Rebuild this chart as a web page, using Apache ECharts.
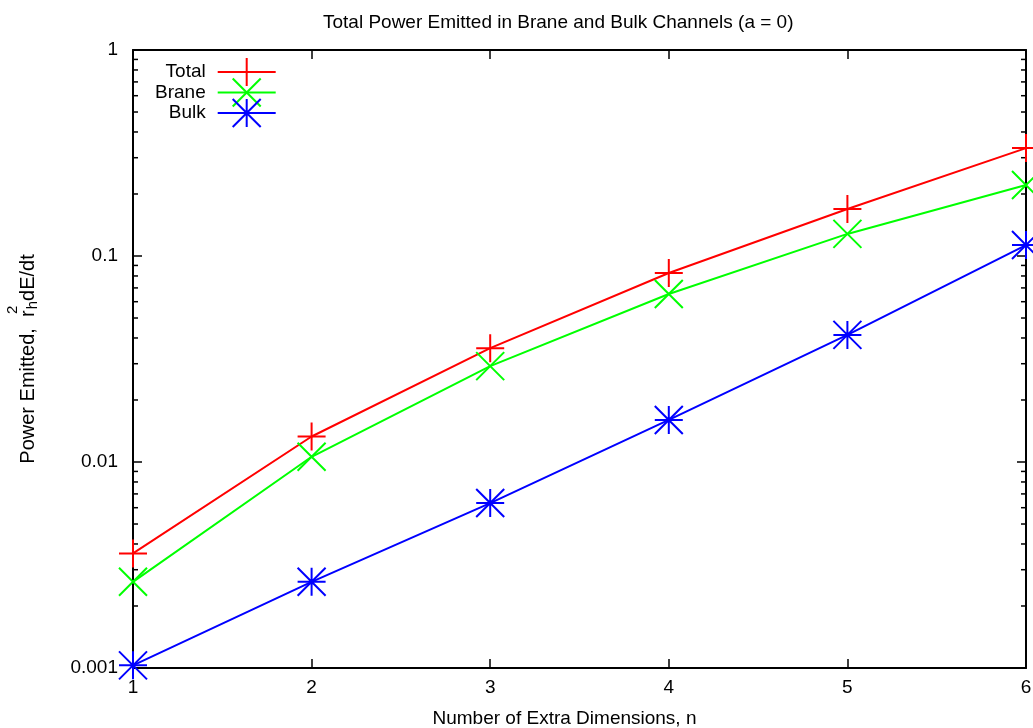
<!DOCTYPE html>
<html><head><meta charset="utf-8">
<script src="https://cdn.jsdelivr.net/npm/echarts@6/dist/echarts.min.js"></script>
<style>html,body{margin:0;padding:0;background:#fff}#c{width:1033px;height:728px}</style>
</head><body><div id="c"></div>
<script>
const dimensions = [1, 2, 3, 4, 5, 6];
const totalPower = [0.0036, 0.0133, 0.0357, 0.0827, 0.169, 0.334];
const branePower = [0.00262, 0.0106, 0.0292, 0.0654, 0.128, 0.221];
const bulkPower = [0.00103, 0.00262, 0.00632, 0.016, 0.0414, 0.113];
const xTickLabels = ['1', '2', '3', '4', '5', '6'];
const yTickLabels = ['0.001', '0.01', '0.1', '1'];
const minorTickValues = [0.002, 0.003, 0.004, 0.005, 0.006, 0.007, 0.008, 0.009,
  0.02, 0.03, 0.04, 0.05, 0.06, 0.07, 0.08, 0.09,
  0.2, 0.3, 0.4, 0.5, 0.6, 0.7, 0.8, 0.9];

const FONT = "'Liberation Sans', Arial, Helvetica, sans-serif";
const FS = 19;
const SYM_PLUS = 'path://M1,0L1,2M0,1L2,1';
const SYM_CROSS = 'path://M0,0L2,2M0,2L2,0';
const SYM_STAR = 'path://M0,0L2,2M0,2L2,0M1,0L1,2M0,1L2,1';

function pairs(vals) { return dimensions.map((x, i) => [x, vals[i]]); }
function lineSeries(name, vals, color, sym) {
  return {
    name, type: 'line', data: pairs(vals), clip: false,
    symbol: sym, symbolSize: 28, showAllSymbol: true,
    color: color,
    lineStyle: { color: color, width: 2 },
    itemStyle: { color: 'transparent', borderColor: color, borderWidth: 2 },
    emphasis: { disabled: true }
  };
}
const axisLine = { show: true, onZero: false, lineStyle: { color: '#000', width: 2 } };
const axisTickMajor = { show: true, inside: true, length: 9, lineStyle: { color: '#000', width: 1.5 } };

const chart = echarts.init(document.getElementById('c'), null, { renderer: 'canvas' });
chart.setOption({
  animation: false,
  backgroundColor: '#fff',
  title: {
    text: 'Total Power Emitted in Brane and Bulk Channels (a = 0)',
    left: 318, top: 8,
    textStyle: { fontSize: FS, fontWeight: 'normal', color: '#000', fontFamily: FONT }
  },
  grid: { left: 133, right: 7, top: 50, bottom: 60, containLabel: false, outerBoundsMode: 'none' },
  legend: {
    data: ['Total', 'Brane', 'Bulk'],
    orient: 'vertical', left: 155, top: 57, align: 'right',
    itemWidth: 58, itemHeight: 35, itemGap: -9.5, padding: 0,
    selectedMode: false,
    textStyle: { fontSize: FS, color: '#000', fontFamily: FONT, padding: [0, 7, 0, 0] }
  },
  xAxis: [{
    type: 'value', min: 1, max: 6, interval: 1, position: 'bottom',
    axisLine, axisTick: axisTickMajor, splitLine: { show: false },
    axisLabel: { margin: 10, color: '#000', fontSize: FS, fontFamily: FONT, showMinLabel: true, showMaxLabel: true,
      formatter: v => xTickLabels[Math.round(v) - 1] },
    name: 'Number of Extra Dimensions, n', nameLocation: 'middle', nameGap: 41,
    nameTextStyle: { color: '#000', fontSize: FS, fontFamily: FONT, padding: [0, 30, 0, 0] }
  }, {
    type: 'value', min: 1, max: 6, interval: 1, position: 'top',
    axisLine, axisTick: axisTickMajor, splitLine: { show: false }, axisLabel: { show: false }
  }],
  yAxis: [{
    type: 'log', logBase: 10, min: 0.001, max: 1, position: 'left',
    axisLine, axisTick: axisTickMajor, splitLine: { show: false }, minorTick: { show: false },
    axisLabel: { margin: 15, color: '#000', fontSize: FS, fontFamily: FONT, showMinLabel: true, showMaxLabel: true,
      formatter: v => yTickLabels[Math.round(Math.log10(v)) + 3] },
    name: '{a|Power Emitted,  r}{sup|2}{sub|h}{a|dE/dt}',
    nameLocation: 'middle', nameRotate: 90, nameGap: 93,
    nameTextStyle: {
      color: '#000', fontSize: FS, fontFamily: FONT,
      rich: {
        a: { fontSize: 20, lineHeight: 24, color: '#000', fontFamily: FONT },
        sup: { fontSize: 15, lineHeight: 17, verticalAlign: 'middle', align: 'left', width: 1, padding: [0, 0, 30, 0], color: '#000', fontFamily: FONT },
        sub: { fontSize: 15, lineHeight: 17, verticalAlign: 'middle', padding: [10, 0, 0, 0], color: '#000', fontFamily: FONT }
      }
    }
  }, {
    type: 'log', logBase: 10, min: 0.001, max: 1, position: 'right',
    axisLine, axisTick: axisTickMajor, splitLine: { show: false }, axisLabel: { show: false }, minorTick: { show: false }
  }],
  series: [
    lineSeries('Total', totalPower, '#ff0000', SYM_PLUS),
    lineSeries('Brane', branePower, '#00ff00', SYM_CROSS),
    lineSeries('Bulk', bulkPower, '#0000ff', SYM_STAR),
    {
      name: 'minorTicks', type: 'custom', silent: true, clip: false, z: 1,
      data: minorTickValues.map(v => [1, v]),
      renderItem: function (params, api) {
        const v = api.value(1);
        const l = api.coord([1, v]);
        const r = api.coord([6, v]);
        const st = { stroke: '#000', lineWidth: 1.5 };
        return { type: 'group', children: [
          { type: 'line', shape: { x1: l[0], y1: l[1], x2: l[0] + 5, y2: l[1] }, style: st },
          { type: 'line', shape: { x1: r[0] - 5, y1: r[1], x2: r[0], y2: r[1] }, style: st }
        ] };
      }
    }
  ]
});
</script>
</body></html>
